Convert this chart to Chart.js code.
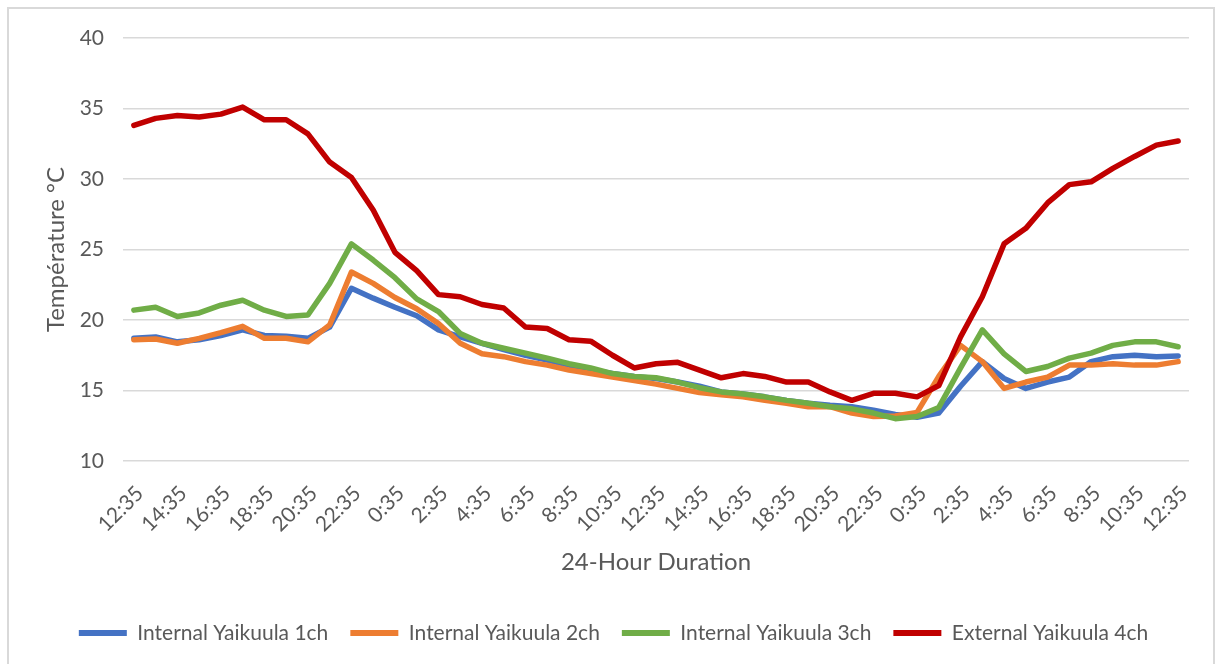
<!DOCTYPE html>
<html>
<head>
<meta charset="utf-8">
<script src="https://cdn.jsdelivr.net/npm/chart.js@4.4.1/dist/chart.umd.min.js"></script>
<style>
  html, body { margin: 0; padding: 0; background: #ffffff; }
  #wrap { position: relative; width: 1225px; height: 664px; overflow: hidden; }
  #frame { position: absolute; left: 7px; top: 7px; width: 1208px; height: 700px; border: 2px solid #d9d9d9; pointer-events: none; box-sizing: border-box; }
  canvas { position: absolute; left: 0; top: 0; }
</style>
</head>
<body>
<div id="wrap">
  <canvas id="c" width="1225" height="664"></canvas>
  <div id="frame"></div>
</div>
<script>
const timeLabels = [
  "12:35","13:35","14:35","15:35","16:35","17:35","18:35","19:35","20:35","21:35","22:35","23:35",
  "0:35","1:35","2:35","3:35","4:35","5:35","6:35","7:35","8:35","9:35","10:35","11:35",
  "12:35","13:35","14:35","15:35","16:35","17:35","18:35","19:35","20:35","21:35","22:35","23:35",
  "0:35","1:35","2:35","3:35","4:35","5:35","6:35","7:35","8:35","9:35","10:35","11:35","12:35"
];
const yTicks = [10, 15, 20, 25, 30, 35, 40];

const internal1 = [18.7,18.8,18.45,18.6,18.9,19.3,18.9,18.85,18.7,19.5,22.25,21.55,20.9,20.3,19.3,18.8,18.35,17.9,17.5,17.15,16.8,16.45,16.2,16.0,15.85,15.6,15.3,14.9,14.75,14.55,14.3,14.1,13.95,13.85,13.6,13.3,13.1,13.4,15.3,17.05,15.85,15.15,15.6,15.95,17.05,17.4,17.5,17.4,17.45];
const internal2 = [18.6,18.65,18.35,18.7,19.1,19.55,18.7,18.7,18.45,19.65,23.4,22.6,21.6,20.8,19.75,18.35,17.6,17.4,17.05,16.8,16.45,16.2,15.95,15.7,15.45,15.15,14.85,14.7,14.55,14.3,14.1,13.85,13.85,13.4,13.15,13.2,13.45,16.0,18.2,17.05,15.15,15.6,15.95,16.8,16.8,16.9,16.8,16.8,17.05];
const internal3 = [20.7,20.9,20.25,20.5,21.05,21.4,20.7,20.25,20.35,22.6,25.4,24.25,23.0,21.5,20.6,19.05,18.35,18.0,17.65,17.3,16.9,16.6,16.2,16.0,15.9,15.6,15.2,14.9,14.75,14.55,14.3,14.1,13.85,13.7,13.4,13.0,13.15,13.8,16.6,19.3,17.6,16.35,16.7,17.3,17.65,18.2,18.45,18.45,18.1];
const external4 = [33.8,34.3,34.5,34.4,34.6,35.1,34.2,34.2,33.2,31.2,30.1,27.8,24.8,23.5,21.8,21.65,21.1,20.85,19.5,19.4,18.6,18.5,17.5,16.6,16.9,17.0,16.45,15.9,16.2,16.0,15.6,15.6,14.9,14.3,14.8,14.8,14.55,15.35,18.8,21.65,25.4,26.5,28.3,29.6,29.8,30.75,31.6,32.4,32.7];

const seriesNames = ["Internal Yaikuula 1ch", "Internal Yaikuula 2ch", "Internal Yaikuula 3ch", "External Yaikuula 4ch"];
const seriesColors = ["#4472C4", "#ED7D31", "#70AD47", "#C00000"];
const seriesData = [internal1, internal2, internal3, external4];
const drawOrder = [4, 3, 2, 1];

const FONT = "Lato, 'Open Sans', sans-serif";
const TEXT = "#595959";

const datasets = seriesData.map((d, i) => ({
  label: seriesNames[i],
  data: d,
  borderColor: seriesColors[i],
  backgroundColor: seriesColors[i],
  borderWidth: 5.5,
  pointRadius: 0,
  pointHoverRadius: 0,
  tension: 0,
  fill: false,
  borderJoinStyle: 'round',
  borderCapStyle: 'round',
  order: drawOrder[i]
}));

new Chart(document.getElementById('c'), {
  type: 'line',
  data: { labels: timeLabels, datasets },
  options: {
    responsive: false,
    animation: false,
    devicePixelRatio: 1,
    layout: { padding: { left: 38, right: 36, top: 38, bottom: 10.5 } },
    plugins: {
      tooltip: { enabled: false },
      legend: {
        position: 'bottom',
        labels: {
          font: { family: FONT, size: 21 },
          color: TEXT,
          boxWidth: 48,
          boxHeight: 6,
          padding: 22,
          sort: (a, b) => a.datasetIndex - b.datasetIndex,
          generateLabels(chart) {
            const items = Chart.defaults.plugins.legend.labels.generateLabels(chart);
            items.forEach(it => { it.lineWidth = 0; it.strokeStyle = 'rgba(0,0,0,0)'; });
            return items;
          }
        }
      }
    },
    scales: {
      x: {
        type: 'category',
        offset: true,
        grid: { display: false, drawTicks: false },
        border: { display: false },
        ticks: {
          autoSkip: false,
          minRotation: 45,
          maxRotation: 45,
          padding: 20,
          labelOffset: 6,
          color: TEXT,
          font: { family: FONT, size: 21 },
          callback(value, index) { return index % 2 === 0 ? this.getLabelForValue(value) : ''; }
        },
        title: {
          display: true,
          text: '24-Hour Duration',
          color: TEXT,
          font: { family: FONT, size: 24 },
          padding: { top: 4, bottom: 24 }
        },
        afterFit(scale) { scale.height = 139.5; }
      },
      y: {
        min: 10,
        max: 40,
        afterBuildTicks(scale) { scale.ticks = yTicks.map(v => ({ value: v })); },
        grid: { color: '#d9d9d9', lineWidth: 1.5, drawTicks: false },
        border: { display: false },
        ticks: {
          padding: 19,
          color: TEXT,
          font: { family: FONT, size: 21 }
        },
        title: {
          display: true,
          text: 'Température °C',
          color: TEXT,
          font: { family: FONT, size: 24 },
          padding: { top: 4, bottom: 4 }
        },
        afterFit(scale) { scale.width = 85; }
      }
    }
  }
});
</script>
</body>
</html>
